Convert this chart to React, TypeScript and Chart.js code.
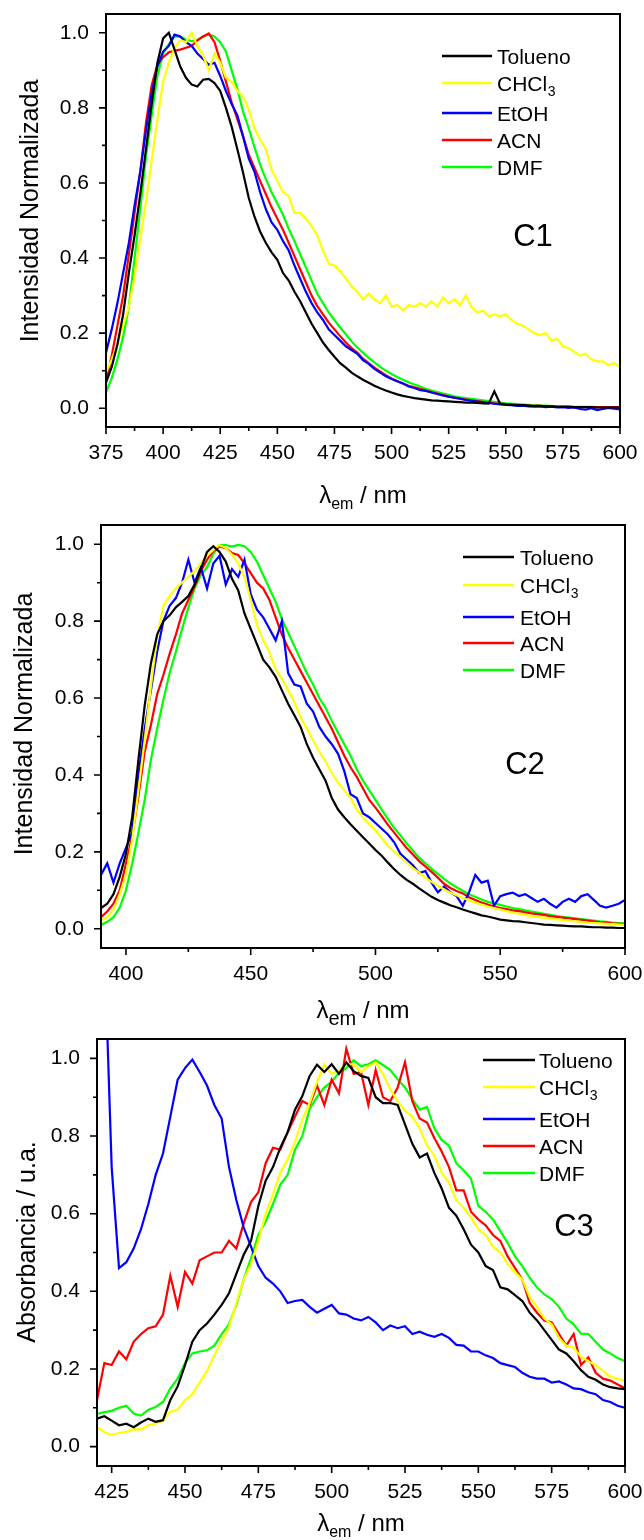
import React, { useEffect, useRef } from "react";
import { Chart, registerables } from "chart.js";

Chart.register(...registerables);

const FONT = '"Liberation Sans", Arial, Helvetica, sans-serif';

// ---------------- C1 (emission, 375-600 nm) ----------------
const c1Wavelength = [
  375, 377.5, 380, 382.5, 385, 387.5, 390, 392.5, 395, 397.5,
  400, 402.5, 405, 407.5, 410, 412.5, 415, 417.5, 420, 422.5,
  425, 427.5, 430, 432.5, 435, 437.5, 440, 442.5, 445, 447.5,
  450, 452.5, 455, 457.5, 460, 462.5, 465, 467.5, 470, 472.5,
  475, 477.5, 480, 482.5, 485, 487.5, 490, 492.5, 495, 497.5,
  500, 502.5, 505, 507.5, 510, 512.5, 515, 517.5, 520, 522.5,
  525, 527.5, 530, 532.5, 535, 537.5, 540, 542.5, 545, 547.5,
  550, 552.5, 555, 557.5, 560, 562.5, 565, 567.5, 570, 572.5,
  575, 577.5, 580, 582.5, 585, 587.5, 590, 592.5, 595, 597.5,
  600,
];
const c1Tolueno = [
  0.068, 0.11, 0.17, 0.25, 0.36, 0.46, 0.57, 0.69, 0.81, 0.92,
  0.985, 1.0, 0.955, 0.91, 0.88, 0.862, 0.857, 0.875, 0.877, 0.866,
  0.845, 0.8, 0.75, 0.69, 0.627, 0.56, 0.51, 0.47, 0.44, 0.415,
  0.395, 0.36, 0.34, 0.31, 0.285, 0.255, 0.225, 0.2, 0.175, 0.155,
  0.137, 0.12, 0.108, 0.095, 0.085, 0.076, 0.068, 0.06, 0.053, 0.047,
  0.042, 0.037, 0.033, 0.03, 0.027, 0.025, 0.023, 0.021, 0.02, 0.019,
  0.018, 0.017, 0.016, 0.015, 0.015, 0.014, 0.013, 0.012, 0.045, 0.012,
  0.01, 0.009, 0.008, 0.008, 0.007, 0.006, 0.006, 0.005, 0.005, 0.004,
  0.004, 0.004, 0.003, 0.003, 0.003, 0.003, 0.002, 0.002, 0.002, 0.002,
  0.002,
];
const c1CHCl3 = [
  0.095, 0.13, 0.17, 0.22, 0.27, 0.35, 0.45, 0.55, 0.66, 0.77,
  0.87, 0.92, 0.96, 0.98, 0.975, 1.0, 0.965, 0.94, 0.9, 0.945,
  0.92, 0.88, 0.87, 0.845, 0.83, 0.795, 0.745, 0.715, 0.69, 0.635,
  0.605, 0.575, 0.565, 0.52, 0.52, 0.505, 0.485, 0.46, 0.42, 0.385,
  0.38, 0.365, 0.345, 0.325, 0.31, 0.29, 0.305, 0.29, 0.28, 0.3,
  0.27, 0.275, 0.26, 0.275, 0.27, 0.28, 0.27, 0.285, 0.27, 0.295,
  0.28, 0.29, 0.275, 0.3, 0.27, 0.255, 0.26, 0.245, 0.25, 0.245,
  0.25, 0.235, 0.225, 0.22, 0.21, 0.2, 0.195, 0.2, 0.18, 0.185,
  0.165, 0.16, 0.15, 0.14, 0.145, 0.13, 0.125, 0.125, 0.115, 0.12,
  0.11,
];
const c1EtOH = [
  0.148, 0.21, 0.28, 0.36, 0.44, 0.54, 0.63, 0.74, 0.84, 0.91,
  0.95, 0.965, 0.995, 0.99, 0.975, 0.965, 0.945, 0.93, 0.915, 0.92,
  0.885, 0.845, 0.81, 0.78, 0.724, 0.665, 0.63, 0.575, 0.53, 0.495,
  0.475, 0.445, 0.42, 0.38, 0.345, 0.31, 0.28, 0.255, 0.235, 0.21,
  0.195, 0.18, 0.165, 0.155, 0.145, 0.128, 0.118, 0.105, 0.095, 0.085,
  0.078, 0.072, 0.066, 0.058, 0.054, 0.048, 0.046, 0.042, 0.038, 0.034,
  0.031, 0.028, 0.026, 0.022, 0.02, 0.018, 0.016, 0.014, 0.012, 0.01,
  0.009, 0.008, 0.006, 0.007, 0.005, 0.004, 0.005, 0.003, 0.004, 0.002,
  0.003, 0.001, 0.002, -0.002, -0.004, 0.0, -0.005, -0.002, 0.001, -0.001,
  -0.003,
];
const c1ACN = [
  0.07, 0.14, 0.22, 0.3, 0.41, 0.52, 0.63, 0.76, 0.86, 0.915,
  0.935, 0.948, 0.952, 0.955, 0.96, 0.965, 0.98, 0.99, 0.998, 0.975,
  0.925, 0.87, 0.815, 0.77, 0.724, 0.675, 0.64, 0.605, 0.57, 0.535,
  0.505, 0.475, 0.44, 0.405, 0.37, 0.335, 0.3, 0.272, 0.25, 0.228,
  0.21, 0.192, 0.175, 0.16, 0.148, 0.132, 0.12, 0.108, 0.098, 0.088,
  0.079, 0.072, 0.066, 0.06, 0.056, 0.052, 0.047, 0.043, 0.039, 0.035,
  0.031, 0.028, 0.025, 0.023, 0.021, 0.019, 0.017, 0.015, 0.013, 0.012,
  0.011, 0.01, 0.009, 0.008, 0.007, 0.006, 0.006, 0.005, 0.005, 0.004,
  0.004, 0.004, 0.003, 0.003, 0.003, 0.003, 0.003, 0.003, 0.003, 0.003,
  0.003,
];
const c1DMF = [
  0.042, 0.08, 0.13, 0.19, 0.27, 0.4, 0.53, 0.67, 0.78, 0.885,
  0.945, 0.97, 0.99, 0.99, 0.982, 0.978, 0.98, 0.99, 0.995, 0.99,
  0.975, 0.95, 0.9, 0.85, 0.79, 0.745, 0.695, 0.648, 0.61, 0.575,
  0.545, 0.515, 0.478, 0.445, 0.41, 0.375, 0.34, 0.305, 0.28, 0.255,
  0.235, 0.215, 0.197, 0.178, 0.162, 0.148, 0.134, 0.122, 0.11, 0.1,
  0.091, 0.083, 0.076, 0.069, 0.063, 0.058, 0.052, 0.047, 0.043, 0.039,
  0.036, 0.032, 0.029, 0.027, 0.025, 0.023, 0.021, 0.019, 0.017, 0.015,
  0.013, 0.012, 0.011, 0.01, 0.009, 0.008, 0.007, 0.007, 0.006, 0.005,
  0.005, 0.005, 0.004, 0.004, 0.004, 0.004, 0.003, 0.003, 0.003, 0.003,
  0.003,
];

// ---------------- C2 (emission, 390-600 nm) ----------------
const c2Wavelength = [
  390, 392.5, 395, 397.5, 400, 402.5, 405, 407.5, 410, 412.5,
  415, 417.5, 420, 422.5, 425, 427.5, 430, 432.5, 435, 437.5,
  440, 442.5, 445, 447.5, 450, 452.5, 455, 457.5, 460, 462.5,
  465, 467.5, 470, 472.5, 475, 477.5, 480, 482.5, 485, 487.5,
  490, 492.5, 495, 497.5, 500, 502.5, 505, 507.5, 510, 512.5,
  515, 517.5, 520, 522.5, 525, 527.5, 530, 532.5, 535, 537.5,
  540, 542.5, 545, 547.5, 550, 552.5, 555, 557.5, 560, 562.5,
  565, 567.5, 570, 572.5, 575, 577.5, 580, 582.5, 585, 587.5,
  590, 592.5, 595, 597.5, 600,
];
const c2Tolueno = [
  0.054, 0.065, 0.09, 0.135, 0.195, 0.29, 0.44, 0.58, 0.69, 0.765,
  0.8, 0.815, 0.836, 0.85, 0.865, 0.895, 0.935, 0.98, 0.995, 0.98,
  0.955, 0.91, 0.88, 0.82, 0.78, 0.74, 0.7, 0.68, 0.655, 0.62,
  0.585, 0.555, 0.525, 0.48, 0.445, 0.415, 0.385, 0.34, 0.31, 0.29,
  0.272, 0.255, 0.238, 0.222, 0.205, 0.19, 0.172, 0.155, 0.14, 0.127,
  0.117, 0.105, 0.094, 0.083, 0.075, 0.068, 0.061, 0.056, 0.05, 0.045,
  0.04, 0.035, 0.032, 0.028, 0.024, 0.022, 0.02, 0.019, 0.017, 0.015,
  0.013, 0.011, 0.01, 0.009, 0.008, 0.007, 0.006, 0.006, 0.005, 0.004,
  0.004, 0.003, 0.003, 0.002, 0.002,
];
const c2CHCl3 = [
  0.022, 0.03, 0.05, 0.09, 0.14, 0.23, 0.36, 0.49, 0.63, 0.76,
  0.84, 0.865, 0.885, 0.9, 0.915, 0.93, 0.95, 0.97, 0.985, 0.998,
  0.99, 0.973, 0.95, 0.915, 0.855, 0.79, 0.75, 0.72, 0.675, 0.65,
  0.62, 0.59, 0.55, 0.52, 0.49, 0.46, 0.435, 0.405, 0.38, 0.36,
  0.34, 0.31, 0.29, 0.272, 0.256, 0.236, 0.216, 0.2, 0.187, 0.172,
  0.158, 0.146, 0.133, 0.122, 0.112, 0.102, 0.094, 0.087, 0.08, 0.074,
  0.068, 0.063, 0.058, 0.054, 0.05, 0.046, 0.042, 0.039, 0.036, 0.033,
  0.031, 0.029, 0.027, 0.025, 0.023, 0.022, 0.019, 0.018, 0.016, 0.015,
  0.014, 0.013, 0.012, 0.011, 0.01,
];
const c2EtOH = [
  0.14, 0.17, 0.12, 0.17, 0.21, 0.25, 0.4, 0.52, 0.62, 0.72,
  0.8, 0.84, 0.86, 0.9, 0.96, 0.9, 0.94, 0.885, 0.95, 0.97,
  0.895, 0.935, 0.915, 0.96, 0.87, 0.83, 0.81, 0.78, 0.75, 0.8,
  0.665, 0.635, 0.63, 0.585, 0.565, 0.525, 0.5, 0.48, 0.455, 0.41,
  0.35, 0.34, 0.3, 0.29, 0.275, 0.26, 0.245, 0.225, 0.195, 0.18,
  0.165, 0.145, 0.15, 0.12, 0.095, 0.11, 0.095, 0.085, 0.06, 0.095,
  0.14, 0.12, 0.125, 0.06, 0.085, 0.09, 0.094, 0.085, 0.09, 0.08,
  0.07, 0.078, 0.065, 0.055, 0.07, 0.078, 0.07, 0.085, 0.09, 0.075,
  0.06, 0.055, 0.06, 0.065, 0.075,
];
const c2ACN = [
  0.03, 0.045, 0.065, 0.1, 0.17, 0.24, 0.345, 0.46, 0.53, 0.61,
  0.66, 0.715, 0.765, 0.82, 0.855, 0.89, 0.93, 0.96, 0.982, 0.994,
  0.99, 0.977, 0.972, 0.95, 0.925, 0.9, 0.885, 0.855, 0.81, 0.765,
  0.73, 0.7, 0.67, 0.64, 0.61, 0.58, 0.55, 0.52, 0.485, 0.45,
  0.42, 0.395, 0.365, 0.335, 0.315, 0.293, 0.27, 0.25, 0.23, 0.21,
  0.193, 0.176, 0.162, 0.148, 0.133, 0.117, 0.106, 0.098, 0.092, 0.082,
  0.075, 0.068, 0.063, 0.058, 0.054, 0.051, 0.048, 0.046, 0.043, 0.04,
  0.038, 0.036, 0.033, 0.031, 0.029, 0.027, 0.025, 0.023, 0.021, 0.019,
  0.017, 0.016, 0.014, 0.013, 0.012,
];
const c2DMF = [
  0.01, 0.018, 0.03, 0.055, 0.1, 0.17, 0.25, 0.335, 0.44, 0.52,
  0.595, 0.665, 0.72, 0.78, 0.835, 0.885, 0.92, 0.94, 0.975, 0.998,
  0.998, 0.994, 0.998, 0.995, 0.98, 0.955, 0.92, 0.885, 0.85, 0.805,
  0.77, 0.735, 0.7, 0.665, 0.635, 0.6, 0.575, 0.54, 0.51, 0.48,
  0.45, 0.415, 0.385, 0.36, 0.335, 0.31, 0.285, 0.262, 0.243, 0.222,
  0.203, 0.185, 0.17, 0.156, 0.143, 0.13, 0.118, 0.108, 0.099, 0.09,
  0.083, 0.076, 0.07, 0.066, 0.062, 0.058, 0.054, 0.051, 0.048, 0.045,
  0.042, 0.039, 0.036, 0.033, 0.031, 0.029, 0.027, 0.025, 0.023, 0.021,
  0.019, 0.018, 0.016, 0.015, 0.014,
];

// ---------------- C3 (absorbance, 420-600 nm) ----------------
const c3Wavelength = [
  420, 422.5, 425, 427.5, 430, 432.5, 435, 437.5, 440, 442.5,
  445, 447.5, 450, 452.5, 455, 457.5, 460, 462.5, 465, 467.5,
  470, 472.5, 475, 477.5, 480, 482.5, 485, 487.5, 490, 492.5,
  495, 497.5, 500, 502.5, 505, 507.5, 510, 512.5, 515, 517.5,
  520, 522.5, 525, 527.5, 530, 532.5, 535, 537.5, 540, 542.5,
  545, 547.5, 550, 552.5, 555, 557.5, 560, 562.5, 565, 567.5,
  570, 572.5, 575, 577.5, 580, 582.5, 585, 587.5, 590, 592.5,
  595, 597.5, 600,
];
const c3Tolueno = [
  0.072, 0.078, 0.067, 0.055, 0.059, 0.05, 0.062, 0.072, 0.064, 0.068,
  0.12, 0.155, 0.21, 0.27, 0.3, 0.317, 0.34, 0.365, 0.395, 0.445,
  0.494, 0.53, 0.62, 0.685, 0.72, 0.77, 0.81, 0.868, 0.903, 0.955,
  0.984, 0.965, 0.985, 0.96, 0.99, 0.967, 0.955, 0.95, 0.9, 0.885,
  0.885, 0.88, 0.83, 0.78, 0.745, 0.755, 0.705, 0.665, 0.615, 0.595,
  0.56, 0.52, 0.5, 0.465, 0.455, 0.41, 0.405, 0.39, 0.375, 0.345,
  0.325, 0.3, 0.275, 0.25, 0.24, 0.22, 0.197, 0.18, 0.172, 0.16,
  0.153, 0.15, 0.148,
];
const c3CHCl3 = [
  0.05, 0.037, 0.03, 0.035, 0.038, 0.045, 0.044, 0.055, 0.059, 0.067,
  0.09, 0.095, 0.12, 0.135, 0.165, 0.195, 0.235, 0.272, 0.308, 0.37,
  0.43, 0.47, 0.53, 0.6, 0.65, 0.705, 0.74, 0.785, 0.842, 0.885,
  0.94, 0.985, 0.96, 0.97, 0.985, 0.985, 0.965, 0.98, 0.99, 0.96,
  0.92, 0.89, 0.865, 0.85, 0.82, 0.775, 0.75, 0.705, 0.68, 0.635,
  0.615, 0.59, 0.56, 0.545, 0.515, 0.5, 0.47, 0.45, 0.43, 0.385,
  0.36, 0.33, 0.315, 0.28, 0.26, 0.255, 0.231, 0.22, 0.21, 0.195,
  0.18, 0.175, 0.17,
];
const c3EtOH = [
  1.6, 1.3, 0.72, 0.46, 0.475, 0.51, 0.56, 0.625, 0.7, 0.755,
  0.85, 0.945, 0.975, 0.997, 0.965, 0.93, 0.88, 0.845, 0.72, 0.635,
  0.565, 0.515, 0.465, 0.435, 0.42, 0.4, 0.37, 0.375, 0.378, 0.36,
  0.345, 0.355, 0.365, 0.343, 0.34, 0.33, 0.325, 0.334, 0.32, 0.3,
  0.312, 0.305, 0.31, 0.29, 0.296, 0.288, 0.283, 0.29, 0.28, 0.262,
  0.26, 0.245, 0.245, 0.235, 0.228, 0.215, 0.21, 0.205, 0.19, 0.18,
  0.175, 0.175, 0.165, 0.168, 0.16, 0.15, 0.148, 0.14, 0.135, 0.12,
  0.115, 0.105, 0.1,
];
const c3ACN = [
  0.12, 0.215, 0.21, 0.245, 0.225, 0.27, 0.29, 0.305, 0.31, 0.34,
  0.44, 0.36, 0.45, 0.42, 0.48, 0.49, 0.5, 0.5, 0.53, 0.51,
  0.575, 0.63, 0.655, 0.73, 0.77, 0.765, 0.81, 0.85, 0.89, 0.88,
  0.93, 0.88, 0.945, 0.91, 1.025, 0.96, 0.965, 0.88, 0.97, 0.9,
  0.89, 0.925, 0.99, 0.89, 0.845, 0.835, 0.795, 0.76, 0.72, 0.66,
  0.66, 0.605, 0.585, 0.57, 0.545, 0.53, 0.49, 0.46, 0.43, 0.37,
  0.345, 0.325, 0.32, 0.29, 0.26, 0.29, 0.21, 0.23, 0.19, 0.175,
  0.17, 0.16, 0.15,
];
const c3DMF = [
  0.084, 0.089, 0.092, 0.1, 0.105, 0.085, 0.08, 0.095, 0.102, 0.115,
  0.15, 0.175, 0.215, 0.24, 0.245, 0.248, 0.26, 0.29, 0.315, 0.365,
  0.43, 0.485, 0.545, 0.58, 0.625, 0.675, 0.7, 0.765, 0.8, 0.87,
  0.9, 0.925, 0.94, 0.963, 0.975, 0.995, 0.98, 0.985, 0.995, 0.983,
  0.97, 0.946, 0.925, 0.895, 0.868, 0.875, 0.82, 0.79, 0.775, 0.73,
  0.712, 0.69, 0.62, 0.605, 0.585, 0.555, 0.525, 0.49, 0.465, 0.435,
  0.41, 0.392, 0.38, 0.36, 0.33, 0.315, 0.291, 0.29, 0.27, 0.25,
  0.24, 0.228, 0.22,
];

const seriesLabels = ["Tolueno", "CHCl", "EtOH", "ACN", "DMF"];
const seriesSubs = ["", "3", "", "", ""];
const seriesColors = ["#000000", "#FFFF00", "#0000FF", "#FF0000", "#00FF00"];

const yAxisMin = -0.05;
const yAxisMax = 1.05;

type PanelCfg = {
  top: number;
  height: number;
  plotLeft: number;
  plotRight: number;
  plotTop: number;
  plotBottom: number;
  xMin: number;
  xMax: number;
  xStep: number;
  xMinor: number;
  wavelengths: number[];
  values: number[][];
  legend: { x0: number; x1: number; tx: number; rows: number[] };
  tag: { text: string; x: number; y: number };
  xTitle: { x: number; y: number; subSize: number; subDy: number };
  yTitle: { text: string; x: number; y: number };
};

const W = 644;

const panels: PanelCfg[] = [
  {
    top: 0,
    height: 515,
    plotLeft: 106,
    plotRight: 620,
    plotTop: 14,
    plotBottom: 427,
    xMin: 375,
    xMax: 600,
    xStep: 25,
    xMinor: 12.5,
    wavelengths: c1Wavelength,
    values: [c1Tolueno, c1CHCl3, c1EtOH, c1ACN, c1DMF],
    legend: { x0: 442, x1: 492, tx: 497, rows: [56, 83, 113, 140, 167] },
    tag: { text: "C1", x: 533, y: 237 },
    xTitle: { x: 363, y: 503, subSize: 16, subDy: 6 },
    yTitle: { text: "Intensidad Normalizada", x: 38, y: 211 },
  },
  {
    top: 515,
    height: 515,
    plotLeft: 101,
    plotRight: 625,
    plotTop: 10,
    plotBottom: 433,
    xMin: 390,
    xMax: 600,
    xStep: 50,
    xMinor: 25,
    wavelengths: c2Wavelength,
    values: [c2Tolueno, c2CHCl3, c2EtOH, c2ACN, c2DMF],
    legend: { x0: 463, x1: 514, tx: 520, rows: [42, 70, 102, 128, 155] },
    tag: { text: "C2", x: 525, y: 250 },
    xTitle: { x: 363, y: 503, subSize: 20, subDy: 7 },
    yTitle: { text: "Intensidad Normalizada", x: 32, y: 209 },
  },
  {
    top: 1030,
    height: 510,
    plotLeft: 97,
    plotRight: 625,
    plotTop: 9,
    plotBottom: 436,
    xMin: 420,
    xMax: 600,
    xStep: 25,
    xMinor: 12.5,
    wavelengths: c3Wavelength,
    values: [c3Tolueno, c3CHCl3, c3EtOH, c3ACN, c3DMF],
    legend: { x0: 483, x1: 535, tx: 539, rows: [30, 57, 89, 116, 143] },
    tag: { text: "C3", x: 574, y: 197 },
    xTitle: { x: 361, y: 501, subSize: 16, subDy: 6 },
    yTitle: { text: "Absorbancia / u.a.", x: 35, y: 212 },
  },
];

function makeDecor(p: PanelCfg) {
  return {
    id: "decor",
    afterDraw(chart: any) {
      const ctx: CanvasRenderingContext2D = chart.ctx;
      const area = chart.chartArea;
      const xs = chart.scales.x;
      const ys = chart.scales.y;
      ctx.save();
      ctx.strokeStyle = "#000";
      ctx.fillStyle = "#000";
      // frame
      ctx.lineWidth = 2;
      ctx.strokeRect(area.left, area.top, area.right - area.left, area.bottom - area.top);
      // x ticks (outward), minor + major
      ctx.lineWidth = 1.6;
      ctx.beginPath();
      const startX = Math.ceil(p.xMin / p.xMinor - 1e-9) * p.xMinor;
      for (let v = startX; v <= p.xMax + 1e-9; v += p.xMinor) {
        const major = Math.abs(v / p.xStep - Math.round(v / p.xStep)) < 1e-6;
        const px = xs.getPixelForValue(v);
        ctx.moveTo(px, area.bottom);
        ctx.lineTo(px, area.bottom + (major ? 7 : 4));
      }
      // y ticks
      for (let k = 0; k <= 10; k++) {
        const v = k / 10;
        if (v < yAxisMin || v > yAxisMax) continue;
        const major = k % 2 === 0;
        const py = ys.getPixelForValue(v);
        ctx.moveTo(area.left, py);
        ctx.lineTo(area.left - (major ? 7 : 4), py);
      }
      ctx.stroke();

      // legend
      const lg = p.legend;
      ctx.textAlign = "left";
      ctx.textBaseline = "alphabetic";
      seriesLabels.forEach((lab, i) => {
        const y = lg.rows[i];
        ctx.strokeStyle = seriesColors[i];
        ctx.lineWidth = 2.5;
        ctx.beginPath();
        ctx.moveTo(lg.x0, y);
        ctx.lineTo(lg.x1, y);
        ctx.stroke();
        ctx.fillStyle = "#000";
        ctx.font = `21px ${FONT}`;
        ctx.fillText(lab, lg.tx, y + 7.5);
        if (seriesSubs[i]) {
          const w = ctx.measureText(lab).width;
          ctx.font = `14px ${FONT}`;
          ctx.fillText(seriesSubs[i], lg.tx + w + 0.5, y + 13);
        }
      });

      // panel tag
      ctx.fillStyle = "#000";
      ctx.font = `31px ${FONT}`;
      ctx.textAlign = "center";
      ctx.textBaseline = "middle";
      ctx.fillText(p.tag.text, p.tag.x, p.tag.y);

      // x title: λ_em / nm
      const t = p.xTitle;
      ctx.textBaseline = "alphabetic";
      ctx.textAlign = "left";
      ctx.font = `24px ${FONT}`;
      const wL = ctx.measureText("\u03bb").width;
      const wN = ctx.measureText(" / nm").width;
      ctx.font = `${t.subSize}px ${FONT}`;
      const wS = ctx.measureText("em").width;
      const x0 = t.x - (wL + wS + wN) / 2;
      ctx.font = `24px ${FONT}`;
      ctx.fillText("\u03bb", x0, t.y);
      ctx.font = `${t.subSize}px ${FONT}`;
      ctx.fillText("em", x0 + wL, t.y + t.subDy);
      ctx.font = `24px ${FONT}`;
      ctx.fillText(" / nm", x0 + wL + wS, t.y);

      // y title
      ctx.translate(p.yTitle.x, p.yTitle.y);
      ctx.rotate(-Math.PI / 2);
      ctx.textAlign = "center";
      ctx.font = `25px ${FONT}`;
      ctx.fillText(p.yTitle.text, 0, 0);
      ctx.restore();
    },
  };
}

function Panel({ p }: { p: PanelCfg }) {
  const ref = useRef<HTMLCanvasElement | null>(null);
  useEffect(() => {
    const canvas = ref.current;
    if (!canvas) return;
    const datasets = p.values.map((vals, i) => ({
      label: seriesLabels[i] + seriesSubs[i],
      data: p.wavelengths.map((x, j) => ({ x, y: vals[j] })),
      borderColor: seriesColors[i],
      backgroundColor: seriesColors[i],
      borderWidth: 2.2,
      pointRadius: 0,
      tension: 0,
      fill: false,
    }));
    const chart = new Chart(canvas, {
      type: "line",
      data: { datasets },
      options: {
        responsive: false,
        animation: false,
        devicePixelRatio: 1,
        events: [],
        layout: {
          padding: { left: 0, right: W - p.plotRight, top: p.plotTop, bottom: 0 },
        },
        plugins: {
          legend: { display: false },
          tooltip: { enabled: false },
        },
        scales: {
          x: {
            type: "linear",
            min: p.xMin,
            max: p.xMax,
            grid: { display: false, drawTicks: false },
            border: { display: false },
            ticks: {
              stepSize: p.xStep,
              includeBounds: false,
              autoSkip: false,
              maxRotation: 0,
              padding: 14,
              color: "#000",
              font: { family: FONT, size: 21 },
              callback: (v: any) => String(v),
            },
            afterFit: (s: any) => {
              s.height = p.height - p.plotBottom;
              s.paddingLeft = 0;
              s.paddingRight = 0;
            },
          },
          y: {
            type: "linear",
            min: yAxisMin,
            max: yAxisMax,
            grid: { display: false, drawTicks: false },
            border: { display: false },
            ticks: {
              stepSize: 0.2,
              includeBounds: false,
              autoSkip: false,
              padding: 17,
              color: "#000",
              font: { family: FONT, size: 21 },
              callback: (v: any) => Number(v).toFixed(1),
            },
            afterFit: (s: any) => {
              s.width = p.plotLeft;
              s.paddingTop = 0;
              s.paddingBottom = 0;
            },
          },
        },
      },
      plugins: [makeDecor(p)],
    } as any);
    return () => chart.destroy();
  }, [p]);
  return (
    <canvas
      ref={ref}
      width={W}
      height={p.height}
      style={{ position: "absolute", left: 0, top: p.top, width: W, height: p.height }}
    />
  );
}

export default function App() {
  return (
    <div
      style={{
        position: "absolute",
        left: 0,
        top: 0,
        width: W,
        height: 1540,
        background: "#fff",
        overflow: "hidden",
      }}
    >
      {panels.map((p, i) => (
        <Panel key={i} p={p} />
      ))}
    </div>
  );
}
